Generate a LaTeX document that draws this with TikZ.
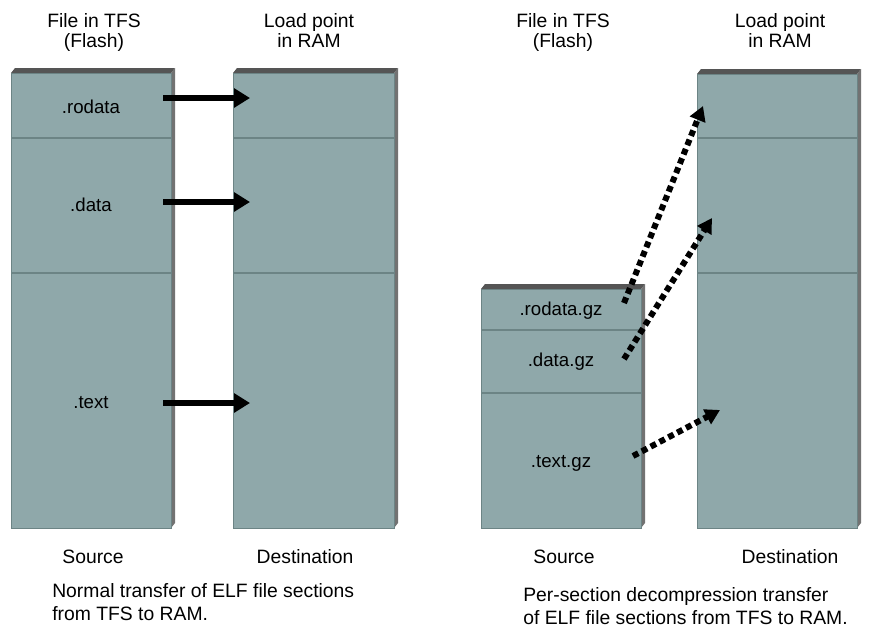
\documentclass[tikz,border=0pt]{standalone}
\usepackage{fontspec}
\setmainfont{Liberation Sans}
\usetikzlibrary{arrows.meta}

\definecolor{boxface}{HTML}{8FA8AA}
\definecolor{boxside}{HTML}{727272}
\definecolor{boxtop}{HTML}{555555}
\definecolor{boxrule}{HTML}{6C8485}

\tikzset{
  lbl/.style={font=\fontsize{14.5}{16}\selectfont, inner sep=0pt},
  seclbl/.style={font=\fontsize{14}{16}\selectfont, inner sep=0pt},
  basetext/.style={lbl, anchor=base},
  captext/.style={lbl, anchor=base west},
  solidarrow/.style={line width=4.5pt, -{Triangle[width=14pt,length=12pt]}},
  dotarrow/.style={line width=4.5pt, dash pattern=on 4.5pt off 3pt,
                   -{Triangle[width=12pt,length=11pt]}},
  divider/.style={boxrule, line width=0.9pt},
}

% memory block with a bevelled top and a shaded right side
% #1 name, #2 left, #3 right, #4 top, #5 bottom
\newcommand\memblock[5]{%
  \fill[boxtop] (#2,#4) -- (#2+4,#4-5) -- (#3+4,#4-5) -- (#3,#4) -- cycle;
  \fill[boxside] (#3,#4) -- (#3+4,#4-5) -- (#3+4,#5-5) -- (#3,#5) -- cycle;
  \fill[boxface] (#2,#4) rectangle (#3,#5);
  \draw[boxrule, line width=0.6pt] (#2,#4) rectangle (#3,#5);
  \coordinate (#1-nw) at (#2,#4);
  \coordinate (#1-se) at (#3,#5);
}
% section divider across a block
\newcommand\memsplit[3]{% #1 left, #2 right, #3 y
  \draw[divider] (#1,#3) -- (#2,#3);
}

\begin{document}
\begin{tikzpicture}[x=0.75pt, y=-0.75pt]
  \useasboundingbox (0,0) rectangle (881,633);

  % ---------------- normal transfer ----------------
  \memblock{srcA}{11}{171}{73}{528}
  \memsplit{11}{171}{138}
  \memsplit{11}{171}{273}
  \memblock{dstA}{233}{394}{73}{528}
  \memsplit{233}{394}{138}
  \memsplit{233}{394}{273}

  \node[basetext] (hA1) at (94,27) {File in TFS};
  \node[basetext] (hA2) at (94,47) {(Flash)};
  \node[basetext] (hA3) at (309,27) {Load point};
  \node[basetext] (hA4) at (309,47) {in RAM};

  \node[seclbl] (rodataA) at (91,107) {.rodata};
  \node[seclbl] (dataA)   at (91,205) {.data};
  \node[seclbl] (textA)   at (91,403) {.text};

  \coordinate (aRo1) at (163,98);  \coordinate (aRo2) at (250,98);
  \coordinate (aDa1) at (163,202); \coordinate (aDa2) at (250,202);
  \coordinate (aTx1) at (163,403); \coordinate (aTx2) at (250,403);
  \draw[solidarrow] (aRo1) -- (aRo2);
  \draw[solidarrow] (aDa1) -- (aDa2);
  \draw[solidarrow] (aTx1) -- (aTx2);

  \node[basetext] (srcLblA) at (93,563) {Source};
  \node[basetext] (dstLblA) at (305,563) {Destination};
  \node[captext] (capA1) at (52,597) {Normal transfer of ELF file sections};
  \node[captext] (capA2) at (52,620) {from TFS to RAM.};

  % ---------------- per-section decompression ----------------
  \memblock{srcB}{481}{641}{289}{528}
  \memsplit{481}{641}{330}
  \memsplit{481}{641}{393}
  \memblock{dstB}{697}{857}{74}{528}
  \memsplit{697}{857}{138}
  \memsplit{697}{857}{273}

  \node[basetext] (hB1) at (563,27) {File in TFS};
  \node[basetext] (hB2) at (563,47) {(Flash)};
  \node[basetext] (hB3) at (780,27) {Load point};
  \node[basetext] (hB4) at (780,47) {in RAM};

  \node[seclbl] (rodataB) at (561,311) {.rodata.gz};
  \node[seclbl] (dataB)   at (561,362) {.data.gz};
  \node[seclbl] (textB)   at (561,463) {.text.gz};

  \coordinate (bRo1) at (624,303); \coordinate (bRo2) at (703,106);
  \coordinate (bDa1) at (624,359); \coordinate (bDa2) at (712,218);
  \coordinate (bTx1) at (633,456); \coordinate (bTx2) at (720,410);
  \draw[dotarrow] (bRo1) -- (bRo2);
  \draw[dotarrow] (bDa1) -- (bDa2);
  \draw[dotarrow] (bTx1) -- (bTx2);

  \node[basetext] (srcLblB) at (564,563) {Source};
  \node[basetext] (dstLblB) at (790,563) {Destination};
  \node[captext] (capB1) at (523,601) {Per-section decompression transfer};
  \node[captext] (capB2) at (523,624) {of ELF file sections from TFS to RAM.};
\end{tikzpicture}
\end{document}
